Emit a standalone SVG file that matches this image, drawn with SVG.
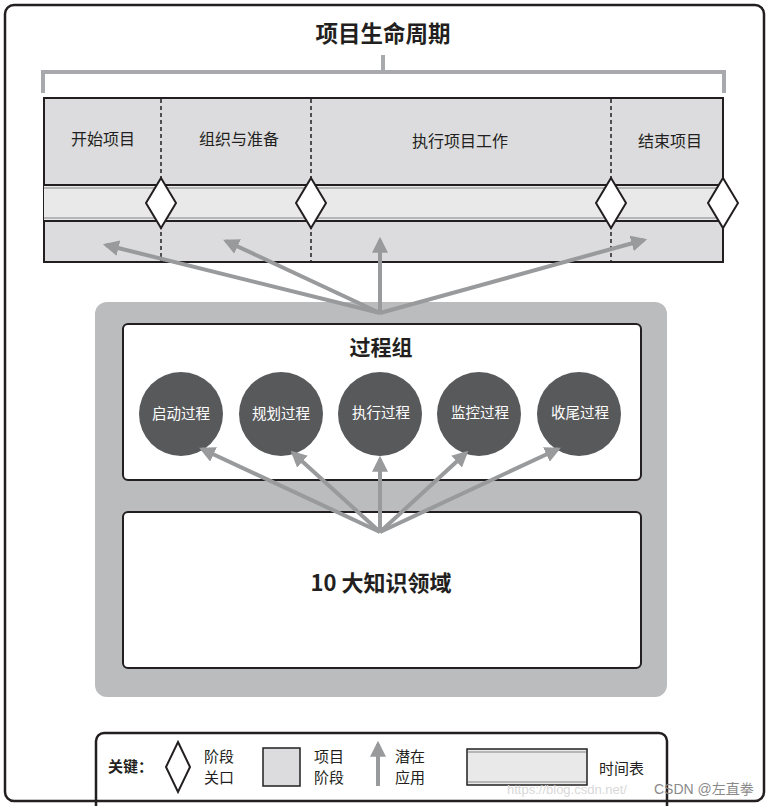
<svg xmlns="http://www.w3.org/2000/svg" width="768" height="806" viewBox="0 0 768 806">
<defs>
<marker id="ah" viewBox="0 0 10 10" refX="8" refY="5" markerWidth="4" markerHeight="4" orient="auto" markerUnits="strokeWidth">
<path d="M0,0 L10,5 L0,10 z" fill="#999a9c"/>
</marker>
<style>
text{font-family:"Noto Sans CJK SC","Noto Sans",sans-serif;fill:#231f20}
.b{font-weight:bold}
.lbl{font-size:16px;text-anchor:middle}
.ct{font-size:14.5px;fill:#fff;text-anchor:middle}
.lg{font-size:15px}
.dash{stroke:#231f20;stroke-width:1.5;stroke-dasharray:4 3}
.dia{fill:#fff;stroke:#231f20;stroke-width:2}
.arr{stroke:#999a9c;stroke-width:4;fill:none;marker-end:url(#ah)}
.circ{fill:#58595b}
</style>
</defs>
<rect x="0" y="0" width="768" height="806" fill="#fff"/>
<g id="legend">
<rect x="96" y="733" width="571" height="90" rx="8" fill="#fff" stroke="#231f20" stroke-width="2.5"/>
<text x="108" y="772" class="b lg">关键：</text>
<polygon points="178,742 190,767 178,792 166,767" class="dia"/>
<text x="204" y="762" class="lg">阶段</text>
<text x="204" y="783" class="lg">关口</text>
<rect x="263" y="748" width="37" height="38" fill="#dcdcde" stroke="#231f20" stroke-width="1.5"/>
<text x="314" y="762" class="lg">项目</text>
<text x="314" y="783" class="lg">阶段</text>
<line x1="378" y1="786" x2="378" y2="744" class="arr"/>
<text x="395" y="762" class="lg">潜在</text>
<text x="395" y="783" class="lg">应用</text>
<rect x="467" y="749" width="120" height="36" fill="#e9e9ea" stroke="#231f20" stroke-width="1.5"/>
<line x1="468" y1="752" x2="586" y2="752" stroke="#b5b6b8" stroke-width="2"/>
<line x1="468" y1="782" x2="586" y2="782" stroke="#b5b6b8" stroke-width="2"/>
<text x="599" y="774" class="lg">时间表</text>
<text x="507" y="794" style="font-family:'Liberation Sans',sans-serif;font-size:13px;fill:#d8d8d8">https://blog.csdn.net/</text>
<text x="654" y="794" style="font-family:'Liberation Sans','Noto Sans CJK SC',sans-serif;font-size:14px;fill:#8a8a8a">CSDN @左直拳</text>
</g>
<rect x="5" y="5" width="759" height="796" rx="9" fill="none" stroke="#231f20" stroke-width="2.5"/>
<g id="title">
<text x="383" y="42" class="b" font-size="22.5" text-anchor="middle">项目生命周期</text>
<path d="M383,55 V72 M43,93 V72 H724 V93" fill="none" stroke="#a7a9ac" stroke-width="4"/>
</g>
<g id="lifecycle">
<rect x="44" y="98" width="679" height="164" fill="#dcdcde" stroke="#231f20" stroke-width="2"/>
<rect x="44" y="185" width="679" height="36" fill="#e9e9ea"/>
<line x1="44" y1="188" x2="723" y2="188" stroke="#b5b6b8" stroke-width="2"/>
<line x1="44" y1="218" x2="723" y2="218" stroke="#b5b6b8" stroke-width="2"/>
<line x1="44" y1="185" x2="723" y2="185" stroke="#231f20" stroke-width="2"/>
<line x1="44" y1="221" x2="723" y2="221" stroke="#231f20" stroke-width="2"/>
<line x1="161" y1="99" x2="161" y2="261" class="dash"/>
<line x1="311" y1="99" x2="311" y2="261" class="dash"/>
<line x1="611" y1="99" x2="611" y2="261" class="dash"/>
<text x="103" y="145" class="lbl">开始项目</text>
<text x="239" y="145" class="lbl">组织与准备</text>
<text x="460" y="147" class="lbl">执行项目工作</text>
<text x="670" y="147" class="lbl">结束项目</text>
</g>
<g id="gate1"><polygon points="161,178 176,203 161,228 146,203" class="dia"/></g>
<g id="gate2"><polygon points="311,178 326,203 311,228 296,203" class="dia"/></g>
<g id="gate3"><polygon points="611,178 626,203 611,228 596,203" class="dia"/></g>
<g id="gate4"><polygon points="723,178 738,203 723,228 708,203" class="dia"/></g>
<g id="frame">
<rect x="95" y="302" width="572" height="395" rx="12" fill="#bbbcbe"/>
</g>
<g id="processgroup">
<rect x="123" y="324" width="518" height="156" rx="5" fill="#fff" stroke="#231f20" stroke-width="2"/>
<text x="381" y="355" class="b" font-size="21" text-anchor="middle">过程组</text>
</g>
<g id="p1"><circle cx="181" cy="414" r="42" class="circ"/><text x="181" y="419" class="ct">启动过程</text></g>
<g id="p2"><circle cx="281" cy="414" r="42" class="circ"/><text x="281" y="419" class="ct">规划过程</text></g>
<g id="p3"><circle cx="380" cy="414" r="42" class="circ"/><text x="381" y="418" class="ct">执行过程</text></g>
<g id="p4"><circle cx="479" cy="414" r="42" class="circ"/><text x="480" y="418" class="ct">监控过程</text></g>
<g id="p5"><circle cx="579" cy="414" r="42" class="circ"/><text x="580" y="418" class="ct">收尾过程</text></g>
<g id="knowledge">
<rect x="123" y="512" width="518" height="156" rx="5" fill="#fff" stroke="#231f20" stroke-width="2"/>
<text x="381" y="591" class="b" font-size="22" text-anchor="middle">10 大知识领域</text>
</g>
<g id="connectors">
<line x1="380" y1="313" x2="106" y2="245" class="arr"/>
<line x1="380" y1="313" x2="226" y2="241" class="arr"/>
<line x1="380" y1="313" x2="380" y2="240" class="arr"/>
<line x1="380" y1="313" x2="644" y2="240" class="arr"/>
<line x1="380" y1="532" x2="202" y2="449" class="arr"/>
<line x1="380" y1="532" x2="293" y2="453" class="arr"/>
<line x1="380" y1="532" x2="380" y2="459" class="arr"/>
<line x1="380" y1="532" x2="466" y2="453" class="arr"/>
<line x1="380" y1="532" x2="558" y2="449" class="arr"/>
</g>
</svg>
